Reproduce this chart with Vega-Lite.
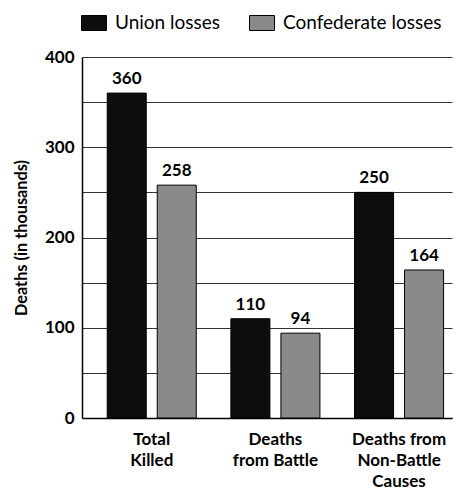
{
  "$schema": "https://vega.github.io/schema/vega-lite/v6.json",
  "autosize": "none",
  "width": 370,
  "height": 361,
  "padding": {"left": 82, "top": 57, "right": 9, "bottom": 73},
  "background": "white",
  "config": {
    "font": "Lato",
    "view": {"stroke": null}
  },
  "data": {
    "values": [
      {"cause": "Total Killed", "side": "Union losses", "deaths": 360},
      {"cause": "Total Killed", "side": "Confederate losses", "deaths": 258},
      {"cause": "Deaths from Battle", "side": "Union losses", "deaths": 110},
      {"cause": "Deaths from Battle", "side": "Confederate losses", "deaths": 94},
      {"cause": "Deaths from Non-Battle Causes", "side": "Union losses", "deaths": 250},
      {"cause": "Deaths from Non-Battle Causes", "side": "Confederate losses", "deaths": 164}
    ]
  },
  "encoding": {
    "x": {
      "field": "cause",
      "type": "nominal",
      "sort": ["Total Killed", "Deaths from Battle", "Deaths from Non-Battle Causes"],
      "scale": {"paddingInner": 0.28, "paddingOuter": 0.136, "align": 0.75},
      "axis": {
        "title": null,
        "labelAngle": 0,
        "ticks": false,
        "domainColor": "#000",
        "domainWidth": 1.5,
        "labelFont": "Lato",
        "labelFontWeight": "bold",
        "labelFontSize": 17,
        "labelColor": "#000",
        "labelPadding": 13,
        "labelLineHeight": 21,
        "labelExpr": "datum.value == 'Total Killed' ? ['Total', 'Killed'] : datum.value == 'Deaths from Battle' ? ['Deaths', 'from Battle'] : ['Deaths from', 'Non-Battle', 'Causes']"
      }
    },
    "xOffset": {
      "field": "side",
      "type": "nominal",
      "sort": ["Union losses", "Confederate losses"],
      "scale": {"paddingInner": 0.22}
    },
    "y": {
      "field": "deaths",
      "type": "quantitative",
      "scale": {"domain": [0, 400], "nice": false},
      "axis": {
        "title": "Deaths (in thousands)",
        "values": [0, 50, 100, 150, 200, 250, 300, 350, 400],
        "labelExpr": "datum.value % 100 == 0 ? datum.label : ''",
        "ticks": false,
        "grid": true,
        "gridColor": "#333",
        "gridWidth": 1,
        "domainColor": "#000",
        "domainWidth": 1.5,
        "labelFont": "Lato",
        "labelFontWeight": "bold",
        "labelFontSize": 17,
        "labelColor": "#000",
        "labelPadding": 8,
        "titleFont": "Lato",
        "titleFontWeight": "bold",
        "titleFontSize": 16.3,
        "titleColor": "#000",
        "titlePadding": 15
      }
    }
  },
  "layer": [
    {
      "mark": {"type": "bar", "stroke": "#000", "strokeWidth": 1},
      "encoding": {
        "color": {
          "field": "side",
          "type": "nominal",
          "sort": ["Union losses", "Confederate losses"],
          "scale": {"domain": ["Union losses", "Confederate losses"], "range": ["#0d0d0d", "#8a8a8a"]},
          "legend": {
            "title": null,
            "orient": "none",
            "direction": "horizontal",
            "legendX": -1,
            "legendY": -47,
            "symbolType": "M-1,-0.6H1V0.6H-1Z",
            "symbolSize": 625,
            "symbolStrokeColor": "#000",
            "symbolStrokeWidth": 1,
            "symbolOpacity": 1,
            "labelFont": "Lato",
            "labelFontSize": 19,
            "labelColor": "#000",
            "labelOffset": 8,
            "columnPadding": 26
          }
        }
      }
    },
    {
      "mark": {"type": "text", "baseline": "bottom", "dy": -5, "font": "Lato", "fontWeight": "bold", "fontSize": 17, "color": "#000"},
      "encoding": {
        "text": {"field": "deaths", "type": "quantitative"}
      }
    }
  ]
}
